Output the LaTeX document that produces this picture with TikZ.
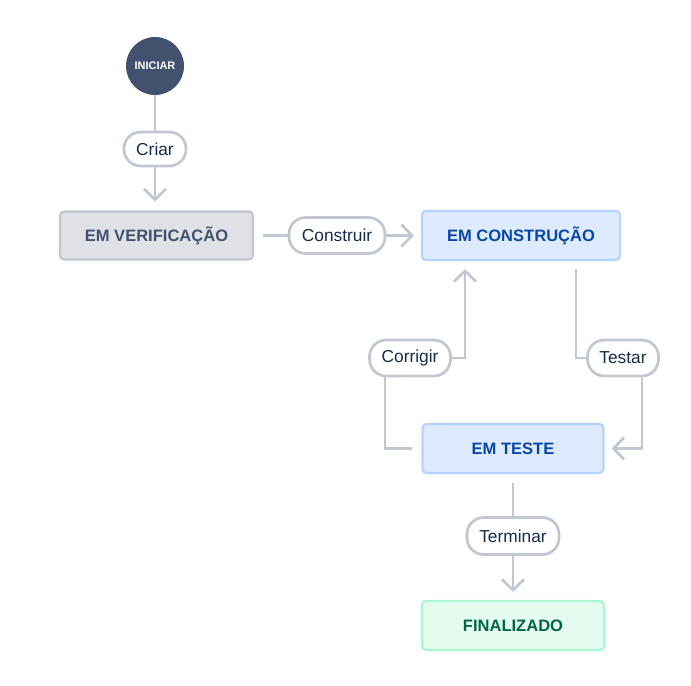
\documentclass[tikz,border=0pt]{standalone}
\usepackage{fontspec}
\setmainfont{Liberation Sans}
\usetikzlibrary{arrows.meta}
\definecolor{lineC}{HTML}{C1C7D0}
\definecolor{startC}{HTML}{42526E}
\definecolor{labelT}{HTML}{172B4D}
\definecolor{grayF}{HTML}{DFE1E6}
\definecolor{grayD}{HTML}{C1C7D0}
\definecolor{grayT}{HTML}{42526E}
\definecolor{blueF}{HTML}{DEEBFF}
\definecolor{blueD}{HTML}{B3D4FF}
\definecolor{blueT}{HTML}{0747A6}
\definecolor{greenF}{HTML}{E3FCEF}
\definecolor{greenD}{HTML}{ABF5D1}
\definecolor{greenT}{HTML}{006644}
\begin{document}
\begin{tikzpicture}[x=0.75pt,y=-0.75pt,
  conn/.style={draw=lineC, line width=2pt},
  arr/.style={conn, -{Straight Barb[length=8pt,width=16.5pt]}},
  pill/.style={draw=lineC, line width=2pt, fill=white, rounded corners=12.5pt,
    minimum height=27pt, inner sep=0pt, text=labelT, font=\fontsize{13}{15}\selectfont},
  state/.style={line width=1.6pt, rounded corners=3pt, minimum height=36.75pt,
    inner sep=0pt, font=\fontsize{12.4}{14}\selectfont\bfseries},
  graystate/.style={state, fill=grayF, draw=grayD, text=grayT},
  bluestate/.style={state, fill=blueF, draw=blueD, text=blueT},
  greenstate/.style={state, fill=greenF, draw=greenD, text=greenT}
]
\useasboundingbox (0,0) rectangle (691,685);
\fill[white] (0,0) rectangle (691,685);

% nodes
\node[circle, fill=startC, minimum size=43.5pt, inner sep=0pt, text=white,
  font=\fontsize{8.2}{10}\selectfont\bfseries] (start) at (155,66) {INICIAR};
\node[pill, minimum width=46.5pt, minimum height=25.5pt] (criar) at (155,149) {Criar};
\node[graystate, minimum width=144.75pt, minimum height=36pt] (verif) at (156.5,235.5) {EM VERIFICAÇÃO};
\node[pill, minimum width=72pt] (construir) at (337,235.5) {Construir};
\node[bluestate, minimum width=148.5pt] (constr) at (521,235.5) {EM CONSTRUÇÃO};
\node[pill, minimum width=60.75pt] (corrigir) at (410,358) {Corrigir};
\node[pill, minimum width=53.25pt] (testar) at (623,358) {Testar};
\node[bluestate, minimum width=135.75pt] (teste) at (513,448.5) {EM TESTE};
\node[pill, minimum width=69pt, minimum height=27.75pt] (terminar) at (513,536) {Terminar};
\node[greenstate, minimum width=136.5pt] (final) at (513,625.5) {FINALIZADO};

% helper coordinates
\coordinate (tx1) at (576,0);
\coordinate (tx2) at (642,0);
\coordinate (cx1) at (385,0);
\coordinate (cx2) at (465,0);

% connectors
\draw[conn] (start) -- (criar);
\draw[arr, shorten >=6.75pt] (criar) -- (criar |- verif.north);
\draw[conn, shorten <=6.75pt] (verif.east) -- (construir.west);
\draw[arr, shorten >=5.25pt] (construir.east) -- (constr.west);
\draw[conn, shorten <=6pt] (constr.south -| tx1) |- (testar.west);
\draw[arr, shorten >=5.25pt] (testar.south -| tx2) |- (teste.east);
\draw[conn, shorten <=6.75pt] (teste.west) -| (corrigir.south -| cx1);
\draw[arr, shorten >=6pt] (corrigir.east) -| (constr.south -| cx2);
\draw[conn, shorten <=6.75pt] (teste.south) -- (terminar.north);
\draw[arr, shorten >=6pt] (terminar.south) -- (final.north);
\end{tikzpicture}
\end{document}
